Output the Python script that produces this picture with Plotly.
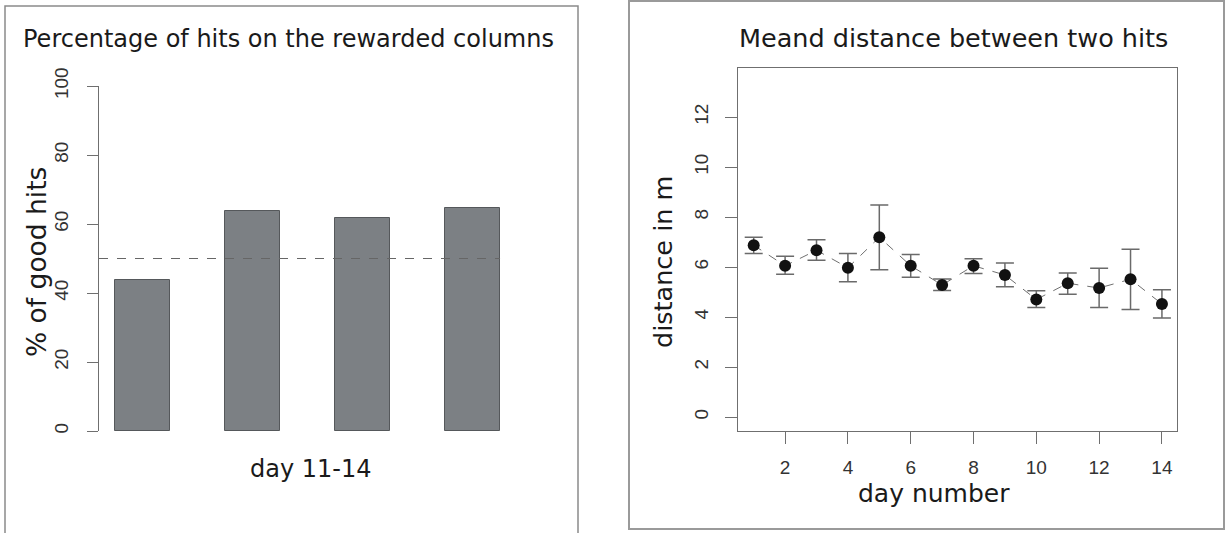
import plotly.graph_objects as go

W, H = 1226, 533

# ---------------- data ----------------
bar_positions = [1, 2, 3, 4]
good_hits_pct = [43.8, 63.8, 61.7, 64.6]
chance_level = 50

days = list(range(1, 15))
mean_dist = [6.87, 6.05, 6.67, 5.97, 7.19, 6.05, 5.28, 6.05, 5.68, 4.70, 5.35, 5.16, 5.51, 4.52]
upper_dist = [7.19, 6.43, 7.09, 6.54, 8.48, 6.50, 5.52, 6.33, 6.16, 5.05, 5.76, 5.95, 6.71, 5.09]
lower_dist = [6.54, 5.71, 6.27, 5.41, 5.89, 5.59, 5.06, 5.74, 5.21, 4.38, 4.91, 4.38, 4.30, 3.96]

left_yticks = [0, 20, 40, 60, 80, 100]
right_yticks = [0, 2, 4, 6, 8, 10, 12]
right_xticks = [2, 4, 6, 8, 10, 12, 14]

err_plus = [u - m for u, m in zip(upper_dist, mean_dist)]
err_minus = [m - l for m, l in zip(mean_dist, lower_dist)]

def px(x):
    return x / W

def py(y):
    return (H - y) / H

TITLE_FONT = "DejaVu Sans, sans-serif"
TICK_FONT = "Liberation Sans, Arial, sans-serif"

fig = go.Figure()

fig.add_trace(go.Bar(
    x=bar_positions, y=good_hits_pct, width=0.5,
    marker=dict(color="#7c8084", line=dict(color="#55585b", width=1)),
    xaxis="x", yaxis="y", showlegend=False,
))

fig.add_trace(go.Scatter(
    x=days, y=mean_dist, mode="lines+markers",
    line=dict(color="#707070", width=1, dash="dash"),
    marker=dict(color="#111111", size=12),
    error_y=dict(type="data", symmetric=False, array=err_plus, arrayminus=err_minus,
                 color="#6a6a6a", thickness=1.5, width=9),
    xaxis="x2", yaxis="y2", showlegend=False,
))

axis_common = dict(showgrid=False, zeroline=False, automargin=False)

fig.update_layout(
    template="none",
    width=W, height=H,
    margin=dict(l=0, r=0, t=0, b=0, autoexpand=False),
    paper_bgcolor="white", plot_bgcolor="white",
    bargap=0,
    xaxis=dict(domain=[px(99), px(560)], range=[0.605, 4.795], visible=False, fixedrange=True,
               **axis_common),
    yaxis=dict(domain=[py(431), py(86)], range=[0, 100], anchor="x",
               showline=True, linecolor="#6f6f6f", linewidth=1.2,
               ticks="outside", ticklen=11, tickcolor="#6f6f6f", tickwidth=1.2,
               tickvals=left_yticks, tickangle=-90, ticklabelstandoff=11,
               tickfont=dict(family=TICK_FONT, size=19, color="#333333"),
               **axis_common),
    xaxis2=dict(domain=[px(738), px(1177)], range=[0.5, 14.48], anchor="y2",
                showline=True, mirror=True, linecolor="#6f6f6f", linewidth=1.2,
                ticks="outside", ticklen=12, tickcolor="#6f6f6f", tickwidth=1.2,
                tickvals=right_xticks, ticklabelstandoff=7,
                tickfont=dict(family=TICK_FONT, size=19, color="#333333"),
                **axis_common),
    yaxis2=dict(domain=[py(431), py(68)], range=[-0.56, 13.96], anchor="x2",
                showline=True, mirror=True, linecolor="#6f6f6f", linewidth=1.2,
                ticks="outside", ticklen=12, tickcolor="#6f6f6f", tickwidth=1.2,
                tickvals=right_yticks, tickangle=-90, ticklabelstandoff=9,
                tickfont=dict(family=TICK_FONT, size=19, color="#333333"),
                **axis_common),
    shapes=[
        dict(type="line", xref="x", yref="y", x0=0.605, x1=4.25, y0=chance_level, y1=chance_level,
             line=dict(color="#666666", width=1.2, dash="dash")),
        dict(type="rect", xref="paper", yref="paper", x0=px(5), x1=px(578), y0=-0.05, y1=py(6),
             line=dict(color="#8a8a8a", width=1.5)),
        dict(type="rect", xref="paper", yref="paper", x0=px(629), x1=px(1224), y0=py(529), y1=py(1),
             line=dict(color="#9a9a9a", width=2)),
    ],
    annotations=[
        dict(text="Percentage of hits on the rewarded columns", xref="paper", yref="paper",
             x=px(288), y=py(39), xanchor="center", yanchor="middle", showarrow=False,
             font=dict(family=TITLE_FONT, size=24, color="#1a1a1a")),
        dict(text="% of good hits", xref="paper", yref="paper", textangle=-90,
             x=px(36), y=py(262), xanchor="center", yanchor="middle", showarrow=False,
             font=dict(family=TITLE_FONT, size=26.5, color="#1a1a1a")),
        dict(text="day 11-14", xref="paper", yref="paper",
             x=px(311), y=py(469), xanchor="center", yanchor="middle", showarrow=False,
             font=dict(family=TITLE_FONT, size=24, color="#1a1a1a")),
        dict(text="Meand distance between two hits", xref="paper", yref="paper",
             x=px(953), y=py(38), xanchor="center", yanchor="middle", showarrow=False,
             font=dict(family=TITLE_FONT, size=25.5, color="#1a1a1a")),
        dict(text="distance in m", xref="paper", yref="paper", textangle=-90,
             x=px(663), y=py(262), xanchor="center", yanchor="middle", showarrow=False,
             font=dict(family=TITLE_FONT, size=25.5, color="#1a1a1a")),
        dict(text="day number", xref="paper", yref="paper",
             x=px(934), y=py(493), xanchor="center", yanchor="middle", showarrow=False,
             font=dict(family=TITLE_FONT, size=25, color="#1a1a1a")),
    ],
)

fig.write_html("out.html")
